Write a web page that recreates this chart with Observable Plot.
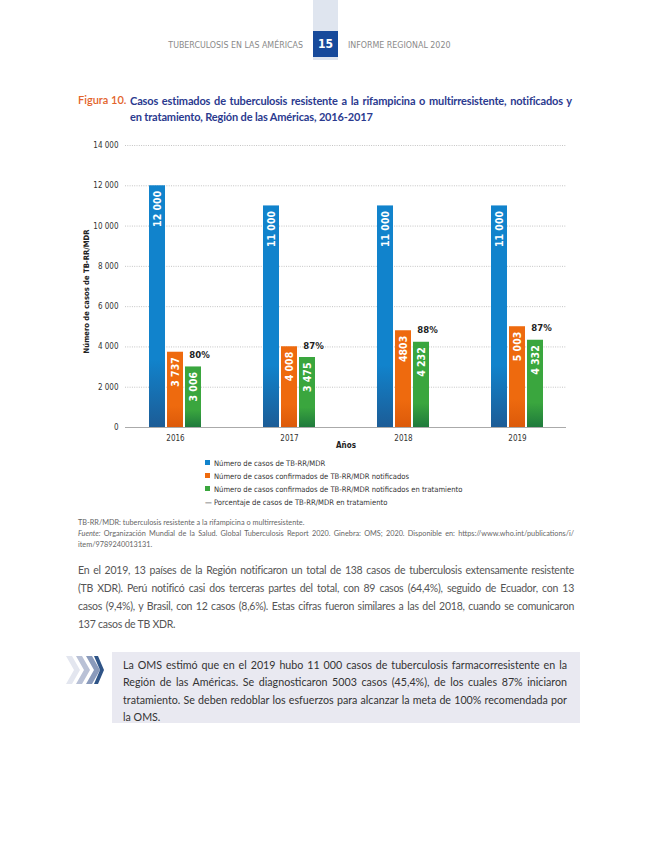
<!DOCTYPE html>
<html><head><meta charset="utf-8">
<script src="https://cdn.jsdelivr.net/npm/d3@7"></script>
<script src="https://cdn.jsdelivr.net/npm/@observablehq/plot@0.6"></script>
<style>
body{margin:0;background:#fff;}
#page{position:relative;width:650px;height:841px;overflow:hidden;font-family:Lato,"Open Sans",sans-serif;background:#fff;}
.abs{position:absolute;white-space:nowrap;}
.narrow{font-family:"Liberation Sans Narrow","DejaVu Sans Condensed",Roboto,sans-serif;}
.jl{text-align:justify;text-align-last:justify;white-space:normal;}
.leg div{height:13px;line-height:13px;}
.sq{display:inline-block;width:5px;height:5px;margin-right:4px;vertical-align:1px;}
</style></head><body>
<div id="page">
  <div class="abs" style="left:313px;top:0;width:25px;height:60px;background:#dfe5ef;"></div>
  <div class="abs narrow" style="left:313px;top:31px;width:25px;height:26px;background:#174a9b;color:#fff;font-weight:bold;font-size:12px;line-height:26px;text-align:center;">15</div>
  <div class="abs narrow" style="right:347px;top:40px;font-size:8.8px;color:#8a8a8a;">TUBERCULOSIS EN LAS AMÉRICAS</div>
  <div class="abs narrow" style="left:348px;top:40px;font-size:8.8px;color:#8a8a8a;">INFORME REGIONAL 2020</div>

  <div class="abs" style="left:78px;top:93px;font-size:11px;color:#e3642b;font-weight:600;">Figura 10.</div>
  <div class="abs" style="left:130px;top:93px;width:442px;font-size:11px;letter-spacing:-0.15px;color:#2b3a8f;font-weight:bold;line-height:16px;">
    <div class="jl">Casos estimados de tuberculosis resistente a la rifampicina o multirresistente, notificados y</div>
    <div>en tratamiento, Región de las Américas, 2016-2017</div>
  </div>

  <div id="chart" class="abs" style="left:0;top:135px;"></div>

  <div class="abs narrow leg" style="left:205px;top:457px;font-size:7.6px;color:#333;">
    <div><span class="sq" style="background:#1183cc"></span>Número de casos de TB-RR/MDR</div>
    <div><span class="sq" style="background:#ee6a0e"></span>Número de casos confirmados de TB-RR/MDR notificados</div>
    <div><span class="sq" style="background:#3aa63e"></span>Número de casos confirmados de TB-RR/MDR notificados en tratamiento</div>
    <div><span style="color:#222">—</span> Porcentaje de casos de TB-RR/MDR en tratamiento</div>
  </div>

  <div class="abs" style="left:78px;top:517px;width:496px;font-size:7.3px;color:#666;line-height:11px;">
    <div>TB-RR/MDR: tuberculosis resistente a la rifampicina o multirresistente.</div>
    <div class="jl"><i>Fuente:</i> Organización Mundial de la Salud. Global Tuberculosis Report 2020. Ginebra: OMS; 2020. Disponible en: https://www.who.int/publications/i/</div>
    <div>item/9789240013131.</div>
  </div>

  <div class="abs" style="left:78px;top:561px;width:496px;font-size:10.5px;letter-spacing:-0.25px;color:#555;line-height:18px;">
    <div class="jl">En el 2019, 13 países de la Región notificaron un total de 138 casos de tuberculosis extensamente resistente</div>
    <div class="jl">(TB XDR). Perú notificó casi dos terceras partes del total, con 89 casos (64,4%), seguido de Ecuador, con 13</div>
    <div class="jl">casos (9,4%), y Brasil, con 12 casos (8,6%). Estas cifras fueron similares a las del 2018, cuando se comunicaron</div>
    <div>137 casos de TB XDR.</div>
  </div>

  <svg class="abs" style="left:66px;top:656px;" width="40" height="28" viewBox="0 0 40 28">
    <polygon points="0,0 6,0 14,14 6,28 0,28 8,14" fill="#e3e6ef"/>
    <polygon points="10,0 16,0 24,14 16,28 10,28 18,14" fill="#b9c1d6"/>
    <polygon points="20,0 26,0 34,14 26,28 20,28 28,14" fill="#8a9abb"/>
    <polygon points="28,0 32,0 38,14 32,28 28,28 34,14" fill="#2f5487"/>
  </svg>
  <div class="abs" style="left:112px;top:652px;width:468px;height:71px;background:#e9e9f1;"></div>
  <div class="abs" style="left:123px;top:656px;width:444px;font-size:10.7px;color:#333;line-height:17.3px;">
    <div class="jl">La OMS estimó que en el 2019 hubo 11 000 casos de tuberculosis farmacorresistente en la</div>
    <div class="jl">Región de las Américas. Se diagnosticaron 5003 casos (45,4%), de los cuales 87% iniciaron</div>
    <div class="jl">tratamiento. Se deben redoblar los esfuerzos para alcanzar la meta de 100% recomendada por</div>
    <div>la OMS.</div>
  </div>
</div>
<script>
const years = ["2016", "2017", "2018", "2019"];
const estimated = [12000, 11000, 11000, 11000];
const notified = [3737, 4008, 4803, 5003];
const treated = [3006, 3475, 4232, 4332];
const estimatedLabels = ["12 000", "11 000", "11 000", "11 000"];
const notifiedLabels = ["3 737", "4 008", "4803", "5 003"];
const treatedLabels = ["3 006", "3 475", "4 232", "4 332"];
const pctLabels = ["80%", "87%", "88%", "87%"];
const yTicks = [0, 2000, 4000, 6000, 8000, 10000, 12000, 14000];
const yTickLabels = ["0", "2 000", "4 000", "6 000", "8 000", "10 000", "12 000", "14 000"];

const rows = years.map((y, i) => ({
  year: y, est: estimated[i], notif: notified[i], treat: treated[i],
  estL: estimatedLabels[i], notifL: notifiedLabels[i], treatL: treatedLabels[i], pct: pctLabels[i]
}));

const font = '"Liberation Sans Narrow","DejaVu Sans Condensed",Roboto,sans-serif';
const lblStyle = {rotate: -90, textAnchor: "end", lineAnchor: "middle", fill: "white", fontWeight: "bold", fontSize: 10.5, dy: 5};

const svg = Plot.plot({
  width: 650, height: 322,
  marginLeft: 125, marginRight: 84, marginTop: 10, marginBottom: 30,
  style: {fontFamily: font, fontSize: "8px", color: "#333", background: "transparent"},
  x: {domain: years, paddingInner: 0.544, paddingOuter: 0.206, tickSize: 0, tickPadding: 8, label: null},
  y: {domain: [0, 14000], ticks: yTicks, tickFormat: d => yTickLabels[yTicks.indexOf(d)], tickSize: 0, tickPadding: 7, label: null},
  marks: [
    Plot.ruleY(yTicks.filter(d => d > 0), {stroke: "#c4c4c4", strokeDasharray: "1,1.3"}),
    Plot.barY(rows, {x: "year", y: "est", fill: "url(#gBlue)", insetRight: 36}),
    Plot.barY(rows, {x: "year", y: "notif", fill: "url(#gOrange)", insetLeft: 18, insetRight: 18}),
    Plot.barY(rows, {x: "year", y: "treat", fill: "url(#gGreen)", insetLeft: 36}),
    Plot.ruleY([0], {stroke: "#aaaaaa", strokeWidth: 1.2}),
    Plot.text(rows, {x: "year", y: "est", text: "estL", dx: -18, ...lblStyle}),
    Plot.text(rows, {x: "year", y: "notif", text: "notifL", dx: 0, ...lblStyle}),
    Plot.text(rows, {x: "year", y: "treat", text: "treatL", dx: 18, ...lblStyle}),
    Plot.text(rows, {x: "year", y: "treat", text: "pct", dx: 24, dy: -12, fontWeight: "bold", fontSize: 9.5, fill: "#222"}),
    Plot.text(["Número de casos de TB-RR/MDR"], {frameAnchor: "left", textAnchor: "middle", text: d => d, rotate: -90, dx: -39, dy: 5, fontWeight: "bold", fontSize: 7.6, fill: "#222"}),
    Plot.text(["Años"], {frameAnchor: "bottom", text: d => d, dy: 20, fontWeight: "bold", fontSize: 8, fill: "#222"})
  ]
});

const defs = d3.select(svg).insert("defs", ":first-child");
function grad(id, top, bottom) {
  const g = defs.append("linearGradient").attr("id", id).attr("x1", 0).attr("y1", 0).attr("x2", 0).attr("y2", 1);
  g.append("stop").attr("offset", "0").attr("stop-color", top);
  g.append("stop").attr("offset", "0.72").attr("stop-color", top);
  g.append("stop").attr("offset", "1").attr("stop-color", bottom);
}
grad("gBlue", "#1183cc", "#1c5c96");
grad("gOrange", "#ee6a0e", "#dc5a0a");
grad("gGreen", "#3aa63e", "#1f7a3c");

document.getElementById("chart").appendChild(svg);
</script>
</body></html>
